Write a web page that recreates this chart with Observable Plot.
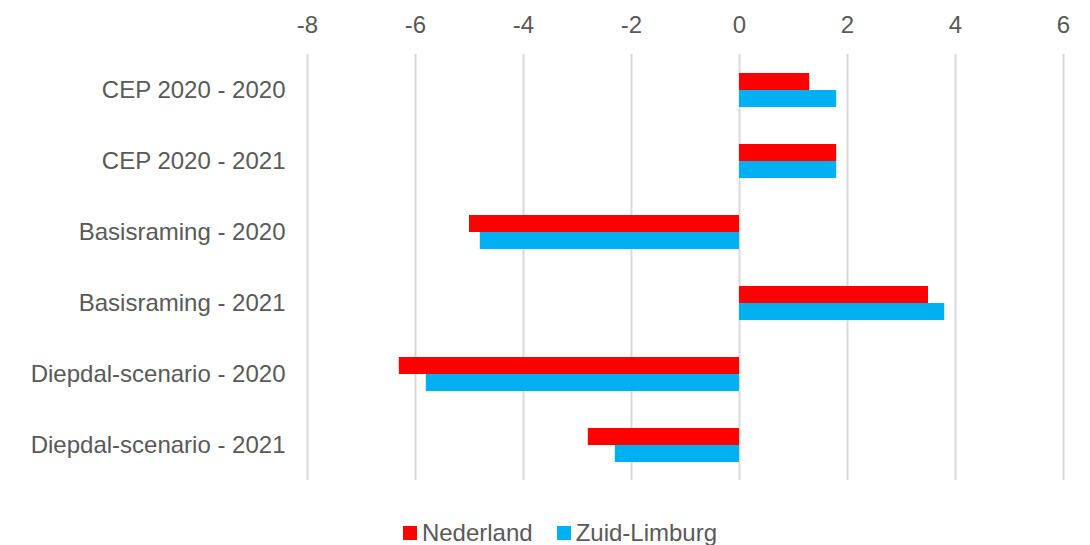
<!DOCTYPE html>
<html>
<head>
<meta charset="utf-8">
<script src="https://cdn.jsdelivr.net/npm/d3@7"></script>
<script src="https://cdn.jsdelivr.net/npm/@observablehq/plot@0.6"></script>
<style>
  body { margin: 0; background: #fff; font-family: "Liberation Sans", Arial, sans-serif; }
  #legend { display: flex; justify-content: center; gap: 24px; margin-top: 10px; padding-left: 30px;
            font-size: 24px; color: #595959; line-height: 26px; }
  #legend span.item { display: inline-flex; align-items: center; }
  #legend span.sw { display: inline-block; width: 14px; height: 14px; margin-right: 5px; }
</style>
</head>
<body>
<div id="chart"></div>
<div id="legend"></div>
<script>
const categories = ["CEP 2020 - 2020", "CEP 2020 - 2021", "Basisraming - 2020", "Basisraming - 2021", "Diepdal-scenario - 2020", "Diepdal-scenario - 2021"];
const seriesNames = ["Nederland", "Zuid-Limburg"];
const nederland = [1.3, 1.8, -5.0, 3.5, -6.3, -2.8];
const zuidLimburg = [1.8, 1.8, -4.8, 3.8, -5.8, -2.3];
const colors = ["#FF0000", "#00B0F0"];
const xTicks = [-8, -6, -4, -2, 0, 2, 4, 6];

const data = [];
categories.forEach((c, i) => {
  data.push({category: c, series: seriesNames[0], value: nederland[i]});
  data.push({category: c, series: seriesNames[1], value: zuidLimburg[i]});
});

const chart = Plot.plot({
  width: 1090,
  height: 510,
  marginTop: 52,
  marginBottom: 28,
  marginLeft: 307,
  marginRight: 27,
  style: {fontFamily: "'Liberation Sans', Arial, sans-serif", fontSize: "24px", color: "#595959", background: "white"},
  x: {domain: [-8, 6], ticks: xTicks, axis: "top", tickSize: 0, tickPadding: 22, label: null, tickFormat: d => String(d)},
  fy: {domain: categories, padding: 0, label: null, tickSize: 0, tickPadding: 22},
  y: {domain: seriesNames, axis: null, paddingInner: 0, paddingOuter: 1},
  color: {domain: seriesNames, range: colors},
  marks: [
    Plot.gridX(xTicks, {stroke: "#d9d9d9", strokeOpacity: 1, strokeWidth: 2}),
    Plot.barX(data, {x: "value", y: "series", fy: "category", fill: "series"})
  ]
});
document.getElementById("chart").appendChild(chart);

const legend = document.getElementById("legend");
seriesNames.forEach((s, i) => {
  const item = document.createElement("span");
  item.className = "item";
  item.innerHTML = `<span class="sw" style="background:${colors[i]}"></span>${s}`;
  legend.appendChild(item);
});
</script>
</body>
</html>
